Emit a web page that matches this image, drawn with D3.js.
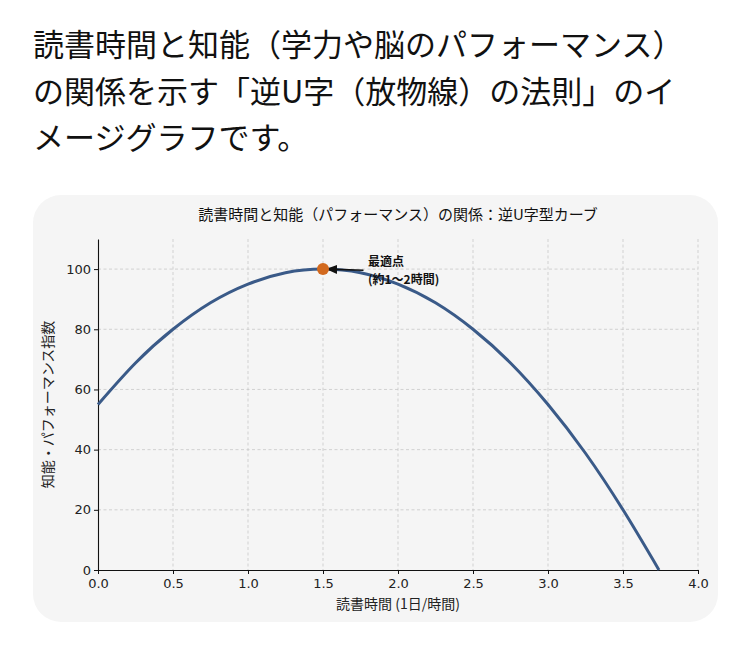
<!DOCTYPE html>
<html>
<head>
<meta charset="utf-8">
<script src="https://cdn.jsdelivr.net/npm/d3@7"></script>
<style>
  html, body { margin: 0; padding: 0; background: #fff; }
  svg { display: block; }
  .tick text { font-family: "DejaVu Sans", sans-serif; font-size: 13px; fill: #222; }
</style>
</head>
<body>
<svg id="chart"></svg>
<script>
// header text above the chart
const headerLines = [
  "読書時間と知能（学力や脳のパフォーマンス）",
  "の関係を示す「逆U字（放物線）の法則」のイ",
  "メージグラフです。"
];
const chartTitle = "読書時間と知能（パフォーマンス）の関係：逆U字型カーブ";
const xLabel = "読書時間 (1日/時間)";
const yLabel = "知能・パフォーマンス指数";

// values
const readingHours = [0, 0.25, 0.5, 0.75, 1.0, 1.25, 1.5, 1.75, 2.0, 2.25, 2.5, 2.75, 3.0, 3.25, 3.5, 3.74];
const performance  = [55, 68.8, 80, 88.8, 95, 98.8, 100, 98.8, 95, 88.8, 80, 68.8, 55, 38.8, 20, 0];
const xTicks = [0, 0.5, 1.0, 1.5, 2.0, 2.5, 3.0, 3.5, 4.0];
const yTicks = [0, 20, 40, 60, 80, 100];
const peak = { x: 1.5, y: 100 };
const peakLabel = ["最適点", "(約1〜2時間)"];

const W = 750, H = 647;
const margin = { top: 239, right: 52, bottom: 77, left: 98 };
const width = W - margin.left - margin.right,
      height = H - margin.top - margin.bottom;

const svg = d3.select("#chart").attr("width", W).attr("height", H);

svg.append("defs").append("marker")
   .attr("id", "arrow")
   .attr("viewBox", "0 0 10 10")
   .attr("refX", 9).attr("refY", 5)
   .attr("markerWidth", 7).attr("markerHeight", 7)
   .attr("orient", "auto")
   .append("path")
   .attr("d", "M0,1 L10,5 L0,9 Z")
   .attr("fill", "#111");

// header
svg.append("g").selectAll("text")
   .data(headerLines)
   .enter().append("text")
   .attr("x", 33)
   .attr("y", (d, i) => 56 + i * 46.5)
   .attr("font-family", "'Noto Sans CJK JP', sans-serif")
   .attr("font-size", 31)
   .attr("fill", "#111")
   .text(d => d);

// card background
svg.append("rect")
   .attr("x", 33).attr("y", 195)
   .attr("width", 685).attr("height", 427)
   .attr("rx", 28)
   .attr("fill", "#f5f5f5");

const g = svg.append("g")
             .attr("transform", `translate(${margin.left},${margin.top})`);

const x = d3.scaleLinear().domain([0, 4]).range([0, width]);
const y = d3.scaleLinear().domain([0, 110]).range([height, 0]);

// grid
g.append("g")
 .selectAll("line")
 .data(xTicks.slice(1))
 .enter().append("line")
 .attr("x1", d => x(d)).attr("x2", d => x(d))
 .attr("y1", 0).attr("y2", height)
 .attr("stroke", "#c8c8c8").attr("stroke-width", 0.8)
 .attr("stroke-dasharray", "3,2.5");

g.append("g")
 .selectAll("line")
 .data(yTicks.slice(1))
 .enter().append("line")
 .attr("x1", 0).attr("x2", width)
 .attr("y1", d => y(d)).attr("y2", d => y(d))
 .attr("stroke", "#c8c8c8").attr("stroke-width", 0.8)
 .attr("stroke-dasharray", "3,2.5");

// axes
g.append("g")
 .attr("transform", `translate(0,${height})`)
 .call(d3.axisBottom(x).tickValues(xTicks).tickFormat(d3.format(".1f")).tickSize(4).tickSizeOuter(0))
 .call(a => a.select(".domain").attr("stroke", "#111").attr("stroke-width", 1.1))
 .call(a => a.selectAll(".tick line").attr("stroke", "#111"))
 .call(a => a.selectAll(".tick text").attr("dy", "0.85em"));

g.append("g")
 .call(d3.axisLeft(y).tickValues(yTicks).tickSize(4).tickSizeOuter(0))
 .call(a => a.select(".domain").attr("stroke", "#111").attr("stroke-width", 1.1))
 .call(a => a.selectAll(".tick line").attr("stroke", "#111"));

// curve
const line = d3.line()
               .x((d, i) => x(readingHours[i]))
               .y(d => y(d))
               .curve(d3.curveNatural);

g.append("path")
 .datum(performance)
 .attr("d", line)
 .attr("fill", "none")
 .attr("stroke", "#3a5a88")
 .attr("stroke-width", 3);

// annotation arrow + peak point
g.append("line")
 .attr("x1", x(1.77)).attr("y1", y(99.6))
 .attr("x2", x(peak.x) + 4).attr("y2", y(peak.y))
 .attr("stroke", "#111").attr("stroke-width", 1.6)
 .attr("marker-end", "url(#arrow)");

g.append("circle")
 .attr("cx", x(peak.x)).attr("cy", y(peak.y))
 .attr("r", 6)
 .attr("fill", "#d2691e");

g.append("g").selectAll("text")
 .data(peakLabel)
 .enter().append("text")
 .attr("x", x(1.8))
 .attr("y", (d, i) => y(100) - 3 + i * 18)
 .attr("font-family", "'Noto Sans CJK JP', sans-serif")
 .attr("font-size", 12)
 .attr("font-weight", "bold")
 .attr("fill", "#111")
 .text(d => d);

// title and labels
svg.append("text")
   .attr("x", margin.left + width / 2).attr("y", 220)
   .attr("text-anchor", "middle")
   .attr("font-family", "'Noto Sans CJK JP', sans-serif")
   .attr("font-size", 15)
   .attr("fill", "#111")
   .text(chartTitle);

svg.append("text")
   .attr("x", margin.left + width / 2).attr("y", 609)
   .attr("text-anchor", "middle")
   .attr("font-family", "'Noto Sans CJK JP', sans-serif")
   .attr("font-size", 14)
   .attr("fill", "#222")
   .text(xLabel);

svg.append("text")
   .attr("transform", `translate(53,${margin.top + y(55)})rotate(-90)`)
   .attr("text-anchor", "middle")
   .attr("font-family", "'Noto Sans CJK JP', sans-serif")
   .attr("font-size", 14)
   .attr("fill", "#222")
   .text(yLabel);
</script>
</body>
</html>
